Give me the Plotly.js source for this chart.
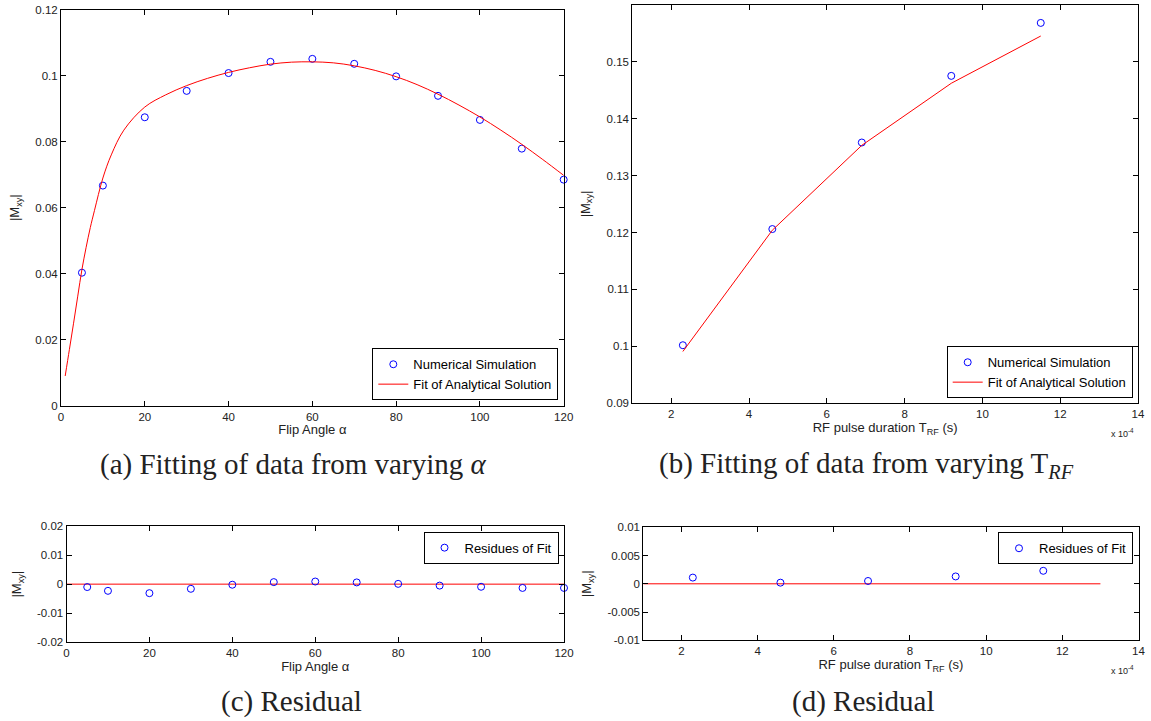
<!DOCTYPE html>
<html><head><meta charset="utf-8">
<script src="https://cdn.plot.ly/plotly-3.0.1.min.js"></script>
<style>html,body{margin:0;padding:0;background:#fff}#chart{width:1151px;height:721px}</style>
</head><body><div id="chart"></div><script>
// (a) flip angle sweep
const flipAngles = [5,10,20,30,40,50,60,70,80,90,100,110,120];
const simAlpha = [0.0403,0.0667,0.0874,0.0954,0.1008,0.1042,0.1051,0.1036,0.0998,0.0939,0.0866,0.0779,0.0685];
const fitAlphaX = [1,2,3,4,5,6,7,8,10,12,15,20,25,30,35,40,45,50,55,60,65,70,75,80,85,90,95,100,105,110,115,120];
const fitAlphaY = [0.0090,0.0170,0.0250,0.0332,0.0413,0.0480,0.0540,0.0592,0.0690,0.0760,0.0835,0.0905,0.0942,0.0970,0.0992,0.1010,0.1024,0.1035,0.1041,0.1042,0.1039,0.1030,0.1016,0.0997,0.0973,0.0944,0.0911,0.0875,0.0835,0.0792,0.0746,0.0698];
const residAlpha = [-0.0010,-0.0023,-0.0031,-0.0016,-0.0002,0.0007,0.0009,0.0006,0.0001,-0.0005,-0.0009,-0.0013,-0.0013];
const zeroAlphaX = [0,120];
// (b) RF pulse duration sweep (units of 1e-4 s)
const tRF = [2.3,4.6,6.9,9.2,11.5];
const simTRF = [0.1002,0.1206,0.1358,0.1475,0.1568];
const fitTRF = [0.0991,0.1204,0.1353,0.1462,0.1545];
const residTRF = [0.0011,0.0002,0.0005,0.0013,0.0023];
const zeroTRFX = [1,13];
const zeroY = [0,0];

const F = 'Liberation Sans, Arial, Helvetica, sans-serif';
const SERIF = 'Liberation Serif, Times New Roman, serif';
const mk = {symbol:'circle-open', size:7, color:'#0000ff', line:{width:1, color:'#0000ff'}};
const rl = {color:'#ff0000', width:1};

const traces = [
 {x:flipAngles, y:simAlpha, mode:'markers', marker:mk, name:'Numerical Simulation', xaxis:'x', yaxis:'y', legend:'legend', cliponaxis:false},
 {x:fitAlphaX, y:fitAlphaY, mode:'lines', line:Object.assign({shape:'spline'},rl), name:'Fit of Analytical Solution', xaxis:'x', yaxis:'y', legend:'legend'},
 {x:tRF, y:simTRF, mode:'markers', marker:mk, name:'Numerical Simulation', xaxis:'x2', yaxis:'y2', legend:'legend2', cliponaxis:false},
 {x:tRF, y:fitTRF, mode:'lines', line:rl, name:'Fit of Analytical Solution', xaxis:'x2', yaxis:'y2', legend:'legend2'},
 {x:zeroAlphaX, y:zeroY, mode:'lines', line:rl, showlegend:false, xaxis:'x3', yaxis:'y3'},
 {x:flipAngles, y:residAlpha, mode:'markers', marker:mk, name:'Residues of Fit', xaxis:'x3', yaxis:'y3', legend:'legend3', cliponaxis:false},
 {x:zeroTRFX, y:zeroY, mode:'lines', line:rl, showlegend:false, xaxis:'x4', yaxis:'y4'},
 {x:tRF, y:residTRF, mode:'markers', marker:mk, name:'Residues of Fit', xaxis:'x4', yaxis:'y4', legend:'legend4', cliponaxis:false}
];

function ax(extra){
  return Object.assign({showline:true, linecolor:'#000', linewidth:1, mirror:'ticks', ticks:'inside', ticklen:5, tickcolor:'#000',
    showgrid:false, zeroline:false, tickfont:{family:F, size:11.5, color:'#222'}, fixedrange:true}, extra);
}
const W=1151, H=721;
const px = v=>v/W, py = v=>(H-v)/H;
const ttl = (t, s)=>({text:t, font:{family:F, size:13, color:'#222'}, standoff:s});
function leg(x, y, ya){
  return {x:px(x), y:py(y), xanchor:'right', yanchor:ya, bordercolor:'#000', borderwidth:1, bgcolor:'#fff',
    font:{family:F, size:13, color:'#000'}, tracegroupgap:0, itemwidth:30};
}
function cap(text, x, y){
  return {text:text, x:px(x), y:py(y), xref:'paper', yref:'paper', xanchor:'center', yanchor:'middle', showarrow:false,
    font:{family:SERIF, size:29, color:'#222'}};
}

const layout = {
  width:W, height:H, margin:{l:0,r:0,t:0,b:0}, paper_bgcolor:'#fff', plot_bgcolor:'#fff', showlegend:true,
  xaxis: ax({domain:[px(61),px(563.7)], range:[0,120], dtick:20, anchor:'y', title:ttl('Flip Angle α', 3)}),
  yaxis: ax({domain:[py(405.7),py(9.7)], range:[0,0.12], dtick:0.02, anchor:'x', title:ttl('|M<sub>xy</sub>|', 12)}),
  xaxis2: ax({domain:[px(632.3),px(1138)], range:[1,14], dtick:2, anchor:'y2', title:ttl('RF pulse duration T<sub>RF</sub> (s)', 3)}),
  yaxis2: ax({domain:[py(403.3),py(4.7)], range:[0.09,0.16], dtick:0.01, anchor:'x2', title:ttl('|M<sub>xy</sub>|', 13)}),
  xaxis3: ax({domain:[px(66.5),px(564)], range:[0,120], dtick:20, anchor:'y3', title:ttl('Flip Angle α', 3)}),
  yaxis3: ax({domain:[py(642.3),py(526)], range:[-0.02,0.02], tickvals:[-0.02,-0.01,0,0.01,0.02], ticktext:['-0.02','-0.01','0','0.01','0.02'], anchor:'x3', title:ttl('|M<sub>xy</sub>|', 12)}),
  xaxis4: ax({domain:[px(643.3),px(1138.5)], range:[1,14], dtick:2, anchor:'y4', title:ttl('RF pulse duration T<sub>RF</sub> (s)', 3)}),
  yaxis4: ax({domain:[py(640.3),py(527.3)], range:[-0.01,0.01], tickvals:[-0.01,-0.005,0,0.005,0.01], ticktext:['-0.01','-0.005','0','0.005','0.01'], anchor:'x4', title:ttl('|M<sub>xy</sub>|', 12)}),
  legend: leg(558.3, 400.3, 'bottom'),
  legend2: leg(1132.7, 398.3, 'bottom'),
  legend3: leg(558.5, 531.7, 'top'),
  legend4: leg(1133, 532.3, 'top'),
  annotations:[
    cap('(a) Fitting of data from varying <i>α</i>', 293, 465),
    cap('(b) Fitting of data from varying T<sub><i>RF</i></sub>', 866, 465),
    cap('(c) Residual', 291, 701),
    cap('(d) Residual', 863, 701),
    {text:'x 10<sup>-4</sup>', x:px(1136), y:py(433), xref:'paper', yref:'paper', xanchor:'right', yanchor:'middle', showarrow:false, font:{family:F, size:9, color:'#222'}},
    {text:'x 10<sup>-4</sup>', x:px(1136), y:py(670), xref:'paper', yref:'paper', xanchor:'right', yanchor:'middle', showarrow:false, font:{family:F, size:9, color:'#222'}}
  ]
};
Plotly.newPlot('chart', traces, layout, {staticPlot:true, displayModeBar:false});
</script></body></html>
